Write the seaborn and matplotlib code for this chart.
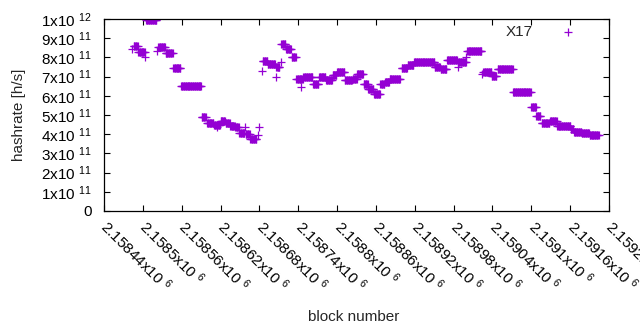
import numpy as np
import pandas as pd
import matplotlib
matplotlib.use("Agg")
import matplotlib.pyplot as plt
import seaborn as sns

# runs of blocks with the same hashrate (first block, last block, hashrate in 1e11 h/s)
run_first = [2158484, 2158486, 2158493, 2158504, 2158505, 2158522, 2158524, 2158535,
             2158547, 2158559, 2158591, 2158599, 2158610, 2158614, 2158620, 2158628,
             2158635, 2158643, 2158649, 2158658, 2158659, 2158666, 2158678, 2158680,
             2158684, 2158685, 2158693, 2158705, 2158706, 2158713, 2158714, 2158721,
             2158730, 2158737, 2158744, 2158748, 2158763, 2158772, 2158783, 2158793,
             2158800, 2158812, 2158824, 2158831, 2158841, 2158848, 2158857, 2158867,
             2158874, 2158881, 2158900, 2158909, 2158919, 2158951, 2158960, 2158970,
             2158986, 2158987, 2158999, 2159001, 2159024, 2159026, 2159039, 2159048,
             2159072, 2159100, 2159108, 2159116, 2159129, 2159140, 2159161, 2159166,
             2159178, 2159190]
run_last = [2158484, 2158492, 2158503, 2158504, 2158521, 2158522, 2158534, 2158546,
            2158558, 2158590, 2158597, 2158609, 2158619, 2158614, 2158627, 2158634,
            2158642, 2158648, 2158657, 2158658, 2158665, 2158675, 2158678, 2158680,
            2158684, 2158692, 2158704, 2158705, 2158711, 2158713, 2158720, 2158729,
            2158736, 2158747, 2158744, 2158762, 2158771, 2158782, 2158792, 2158799,
            2158811, 2158823, 2158830, 2158840, 2158847, 2158856, 2158866, 2158873,
            2158880, 2158897, 2158908, 2158918, 2158950, 2158959, 2158969, 2158985,
            2158986, 2158999, 2158999, 2159023, 2159024, 2159038, 2159046, 2159071,
            2159099, 2159107, 2159114, 2159128, 2159139, 2159160, 2159165, 2159177,
            2159189, 2159204]
run_rate = [8.42, 8.58, 8.30, 8.04, 9.95, 8.33, 8.53, 8.21,
            7.43, 6.49, 4.88, 4.57, 4.48, 4.39, 4.70, 4.60,
            4.43, 4.35, 4.06, 4.39, 4.00, 3.75, 3.96, 4.39,
            7.28, 7.83, 7.67, 6.96, 7.52, 7.74, 8.68, 8.42,
            8.00, 6.86, 6.47, 6.96, 6.61, 6.96, 6.82, 7.08,
            7.26, 6.82, 6.90, 7.12, 6.64, 6.33, 6.07, 6.61,
            6.73, 6.86, 7.43, 7.59, 7.74, 7.48, 7.38, 7.86,
            7.52, 7.78, 8.00, 8.31, 7.12, 7.22, 7.05, 7.38,
            6.18, 5.40, 4.94, 4.57, 4.67, 4.44, 4.27, 4.13,
            4.05, 3.96]

xticks = np.arange(2158440, 2159221, 60)
yticks = np.arange(0, 11) * 1e11

blocks, rates = [], []
for a, b, r in zip(run_first, run_last, run_rate):
    for blk in range(a, b + 1):
        blocks.append(blk)
        rates.append(r * 1e11)
df = pd.DataFrame({"block": blocks, "hashrate": rates})

sns.set_style("ticks")
plt.rcParams["font.family"] = ["Liberation Sans", "DejaVu Sans"]
plt.rcParams["mathtext.fontset"] = "custom"
plt.rcParams["mathtext.rm"] = "Liberation Sans"
plt.rcParams["mathtext.it"] = "Liberation Sans"
plt.rcParams["xtick.direction"] = "in"
plt.rcParams["ytick.direction"] = "in"

fig = plt.figure(figsize=(6.4, 3.3), dpi=100)
ax = fig.add_axes([104 / 640, 1 - 211 / 330, 505 / 640, 192 / 330])

sns.scatterplot(data=df, x="block", y="hashrate", marker="+", color="#9400d3",
                s=34, linewidth=0.9, label="X17", ax=ax)

ax.set_xlim(2158440, 2159220)
ax.set_ylim(0, 1e12)
ax.set_xticks(xticks)
ax.set_xticklabels([f"{v / 1e6:g}x10 $^{{6}}$" for v in xticks],
                   rotation=-45, ha="left", va="center", rotation_mode="anchor")
ax.set_yticks(yticks)
ylabels = ["0"] + [f"{i}x10 $^{{11}}$" for i in range(1, 10)] + ["1x10 $^{12}$"]
ax.set_yticklabels(ylabels)
ax.tick_params(axis="both", labelsize=11, length=4, width=0.8, colors="black",
               top=True, right=True)
ax.tick_params(axis="y", pad=8.5)
ax.tick_params(axis="x", pad=9)
for sp in ax.spines.values():
    sp.set_linewidth(0.9)
    sp.set_color("black")

ax.set_xlabel("block number", fontsize=11)
ax.set_ylabel("hashrate [h/s]", fontsize=11)
ax.xaxis.set_label_coords(0.495, -0.515)
ax.yaxis.set_label_coords(-0.155, 0.5)

ax.legend(loc="upper right", bbox_to_anchor=(582 / 640, 1 - 25.5 / 330),
          bbox_transform=fig.transFigure, frameon=False, markerfirst=False,
          handlelength=1.8, handletextpad=1.4, borderpad=0, borderaxespad=0,
          fontsize=11)

fig.savefig("out.png", dpi=100)
